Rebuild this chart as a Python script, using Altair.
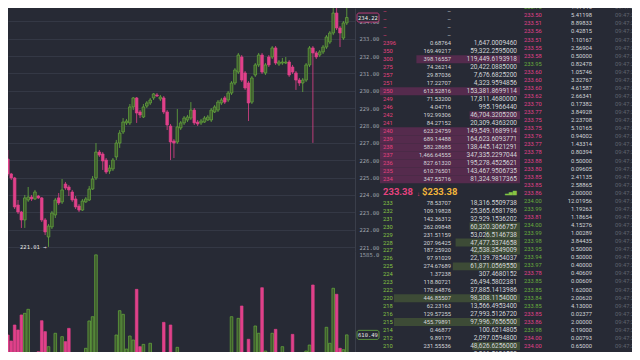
import altair as alt
import pandas as pd

# ---------------- colours / fonts ----------------
BG = "#272a35"
GRID = "#343845"
PINK = "#e0418a"
GREEN = "#67ad3d"
GREEN_FILL = "#3e5a2e"
TXT_PINK = "#e6427f"
TXT_GREEN = "#86c444"
TXT = "#d2d4d8"
TXT_DIM = "#5f636e"
AXIS_TXT = "#9ea2ab"
ASK_BAR = "#552b4d"
BID_BAR = "#3d4b36"
GOLD = "#f2b43a"
MONO = "DejaVu Sans Mono"
SANS = "Roboto"

# ---------------- candlestick data ----------------
opens = [226.07, 225.21, 224.98, 223.42, 223.02, 222.56, 223.71, 223.88, 223.77, 223.94,
         223.83, 222.56, 221.58, 222.16, 222.85, 223.83, 223.60, 224.63, 224.46, 224.17,
         223.77, 223.36, 223.13, 223.60, 223.71, 224.34, 224.98, 226.47, 226.36, 226.01,
         225.38, 225.50, 226.19, 226.99, 227.63, 228.15, 228.15, 229.07, 229.59, 228.78,
         228.49, 229.12, 229.30, 229.59, 229.76, 229.53, 229.59, 228.78, 227.97, 227.11,
         227.05, 227.86, 228.15, 228.32, 228.43, 228.89, 228.20, 228.15, 228.20, 228.32,
         228.32, 228.78, 228.89, 229.30, 229.59, 229.47, 229.87, 230.45, 231.08, 231.95,
         231.03, 230.45, 229.35, 230.91, 231.49, 232.06, 231.03, 231.95, 231.95, 232.47,
         231.54, 231.60, 231.60, 231.66, 231.37, 231.03, 230.62, 230.45, 230.62, 231.49,
         232.47, 232.18, 232.06, 232.24, 232.52, 232.81, 233.33, 234.48, 233.62, 233.04,
         233.91]
closes = [225.21, 224.98, 223.31, 223.02, 222.56, 223.83, 223.88, 223.77, 224.17, 223.83,
          222.56, 221.87, 222.21, 222.96, 223.71, 223.54, 224.29, 224.40, 224.29, 223.71,
          223.31, 223.13, 223.65, 223.77, 224.34, 224.92, 226.47, 226.30, 225.96, 225.32,
          225.55, 226.01, 226.99, 227.57, 228.20, 228.26, 229.07, 229.59, 228.72, 228.61,
          229.07, 229.30, 229.47, 229.82, 229.70, 229.64, 228.78, 228.03, 227.05, 226.99,
          227.92, 228.15, 228.43, 228.49, 228.89, 228.15, 228.09, 228.26, 228.43, 228.49,
          228.89, 229.07, 229.35, 229.47, 229.35, 229.87, 230.45, 231.20, 232.06, 230.62,
          230.16, 229.30, 230.74, 231.49, 232.06, 231.08, 231.49, 231.49, 232.47, 231.60,
          231.66, 231.66, 231.66, 230.91, 231.08, 230.62, 230.45, 230.62, 231.49, 232.47,
          232.18, 231.95, 232.24, 232.52, 233.10, 233.33, 234.48, 233.62, 233.33, 233.91,
          234.22]
highs = [226.59, 225.27, 225.04, 223.71, 223.08, 224.00, 224.46, 224.00, 224.29, 224.00,
         223.88, 222.67, 222.33, 223.08, 223.83, 224.11, 224.92, 224.75, 224.57, 224.29,
         223.94, 223.48, 223.77, 223.88, 224.52, 225.09, 226.99, 226.59, 226.47, 226.13,
         225.73, 226.13, 227.17, 227.74, 228.43, 228.38, 229.24, 229.64, 229.64, 228.89,
         229.24, 229.41, 229.59, 229.87, 229.87, 229.76, 229.70, 228.89, 228.09, 227.22,
         228.95, 228.26, 228.55, 228.61, 229.35, 229.01, 228.32, 228.38, 228.55, 228.61,
         229.01, 229.18, 229.47, 229.59, 229.70, 229.99, 230.56, 231.31, 232.18, 232.06,
         231.14, 230.56, 230.85, 231.60, 232.18, 232.18, 231.60, 232.06, 232.58, 232.58,
         231.77, 231.89, 231.95, 231.77, 231.49, 231.14, 230.74, 230.74, 231.60, 232.58,
         232.58, 232.29, 232.35, 232.64, 233.21, 233.44, 234.94, 234.77, 233.73, 234.02,
         234.83]
lows = [225.09, 224.86, 223.19, 222.90, 222.10, 222.10, 223.60, 223.65, 223.71, 223.77,
        222.44, 221.69, 221.01, 222.04, 222.67, 223.42, 223.48, 224.29, 223.94, 223.60,
        223.19, 223.02, 223.08, 223.54, 223.65, 224.29, 224.86, 226.19, 225.44, 225.21,
        225.21, 225.38, 226.01, 226.71, 227.51, 228.03, 228.03, 228.89, 228.15, 228.43,
        228.43, 229.01, 229.18, 229.47, 229.64, 229.41, 228.66, 227.74, 226.01, 226.13,
        226.94, 227.74, 228.03, 228.20, 228.32, 228.03, 227.97, 228.03, 228.15, 228.26,
        228.20, 228.72, 228.78, 229.18, 229.24, 229.35, 229.76, 230.33, 230.97, 230.51,
        230.05, 228.26, 229.24, 230.80, 231.37, 230.97, 230.91, 231.37, 231.83, 231.49,
        231.43, 231.49, 231.54, 230.80, 230.97, 230.05, 230.28, 229.93, 230.51, 231.37,
        227.00, 231.83, 231.95, 232.12, 232.41, 232.70, 233.21, 233.50, 232.52, 232.93,
        233.79]
volumes = [609, 536, 731, 670, 853, 873, 922, 250, 260, 406,
           783, 650, 467, 341, 630, 394, 589, 528, 690, 280,
           240, 260, 300, 447, 780, 832, 1585, 325, 365, 290,
           270, 300, 609, 905, 861, 438, 597, 548, 1165, 467,
           495, 317, 508, 280, 394, 386, 763, 260, 731, 280,
           459, 353, 250, 220, 240, 333, 210, 230, 200, 220,
           210, 240, 230, 250, 260, 329, 832, 333, 812, 962,
           329, 557, 365, 719, 630, 1185, 414, 290, 630, 678,
           374, 467, 280, 300, 617, 290, 270, 300, 414, 487,
           1218, 290, 330, 280, 703, 508, 1178, 1105, 447, 430,
           610.49]

price_ticks = [221, 222, 223, 224, 225, 226, 227, 228, 229, 230, 231, 232, 233, 234]
last_price = 234.22
last_volume = 610.49
volume_label = 1585.0
low_mark = 221.01
low_index = 12

# ---------------- order book data ----------------
ask_prices = ["–", "–", "–", "–", "–", "2396", "350", "300", "275", "257", "251", "250",
              "249", "246", "242", "241", "240", "239", "238", "237", "236", "235", "234"]
ask_amounts = ["–", "–", "–", "–", "–", "0.68764", "169.49217", "398.16557", "74.26214",
               "29.87036", "17.22707", "613.52816", "71.53200", "4.04716", "192.99306",
               "84.27152", "623.24759", "689.14488", "582.28685", "1,466.64555",
               "827.61320", "610.76501", "347.55716"]
ask_totals = ["", "", "", "", "", "1,647.0009460", "59,322.2595000", "119,449.6193918",
              "20,422.0885000", "7,676.6825200", "4,323.9594856", "153,381.8699114",
              "17,811.4680000", "995.1966440", "46,704.3205200", "20,309.4363200",
              "149,549.1689914", "164,623.6093771", "138,445.1421291", "347,335.2297044",
              "195,278.4525621", "143,467.9506735", "81,324.9817365"]
ask_depth = [0, 0, 0, 0, 0, 0, 0, 0.74, 0, 0, 0, 1.0,
             0, 0, 0.36, 0, 1.0, 1.0, 1.0, 1.0, 1.0, 1.0, 1.0]

mid_price = 233.38

bid_prices = ["233", "232", "231", "230", "229", "228", "227", "226", "225", "224",
              "223", "222", "220", "218", "216", "215", "214", "212", "210", "205"]
bid_amounts = ["78.53707", "109.19828", "142.36312", "262.09848", "231.51159", "207.96425",
               "187.25920", "97.91029", "274.67689", "1.37238", "118.80721", "170.64876",
               "446.85507", "62.23163", "129.57255", "455.79891", "0.46877", "9.89179",
               "231.55536", "10.05630"]
bid_totals = ["18,316.5509738", "25,365.6581786", "32,929.1536202", "60,320.3066757",
              "53,026.5146738", "47,477.5374658", "42,538.3549009", "22,139.7854037",
              "61,871.0569550", "307.4680152", "26,494.5802381", "37,885.1413986",
              "98,308.1154000", "13,566.4953400", "27,993.5126720", "97,996.7656500",
              "100.6214805", "2,097.0594800", "48,626.6256000", "2,066.5696500"]
bid_depth = [0, 0, 0, 0.36, 0.25, 0.46, 0.34, 0, 0.48, 0,
             0, 0, 0.90, 0, 0, 0.90, 0, 0, 0.34, 0]

# ---------------- trade history data ----------------
trade_prices = ["233.59", "233.76", "233.50", "233.51", "233.56", "233.51", "233.55", "233.58",
                "233.95", "233.60", "233.60", "233.60", "233.62", "233.70", "233.77", "233.75",
                "233.75", "233.76", "233.77", "233.78", "233.88", "233.80", "233.85", "233.85",
                "233.86", "234.00", "233.99", "233.81", "234.00", "233.99", "233.98", "233.95",
                "233.94", "233.97", "233.78", "233.85", "233.85", "233.84", "233.85", "233.85",
                "233.86", "233.98", "234.00", "234.00", "233.85", "233.88"]
trade_sides = ["sell", "buy", "sell", "sell", "sell", "sell", "sell", "sell",
               "buy", "sell", "sell", "sell", "sell", "sell", "sell", "sell",
               "sell", "sell", "sell", "sell", "sell", "sell", "sell", "sell",
               "sell", "buy", "buy", "sell", "buy", "buy", "buy", "buy",
               "buy", "buy", "sell", "buy", "buy", "buy", "buy", "sell",
               "sell", "buy", "sell", "sell", "sell", "sell"]
trade_amounts = ["1.99946", "1.97916", "5.41198", "8.89833", "0.42815", "1.10167", "2.56904",
                 "0.50000", "0.82478", "1.05746", "3.32767", "4.61587", "2.66341", "0.17382",
                 "3.84928", "2.23708", "5.10165", "0.94002", "1.43314", "0.80394", "0.50000",
                 "0.09605", "2.41135", "2.58865", "2.00000", "12.01956", "1.19263", "1.18654",
                 "4.15276", "1.00289", "3.84435", "0.50000", "0.50000", "0.40000", "0.40609",
                 "0.00609", "1.62000", "2.00620", "4.13000", "0.02377", "2.00000", "0.19000",
                 "0.00793", "0.65000", "0.91746", "0.60231"]
trade_times = ["09:47:38", "09:47:37", "09:47:37", "09:47:37", "09:47:36", "09:47:35",
               "09:47:35", "09:47:35", "09:47:33", "09:47:33", "09:47:33", "09:47:33",
               "09:47:33", "09:47:32", "09:47:32", "09:47:32", "09:47:32", "09:47:32",
               "09:47:32", "09:47:32", "09:47:31", "09:47:31", "09:47:31", "09:47:31",
               "09:47:31", "09:47:30", "09:47:30", "09:47:29", "09:47:28", "09:47:28",
               "09:47:28", "09:47:28", "09:47:28", "09:47:28", "09:47:28", "09:47:28",
               "09:47:28", "09:47:27", "09:47:27", "09:47:27", "09:47:27", "09:47:27",
               "09:47:27", "09:47:26", "09:47:26", "09:47:25", "09:47:25"][:46]

# ---------------- tables ----------------
n = len(opens)
cdf = pd.DataFrame({"i": list(range(n)), "open": opens, "high": highs, "low": lows,
                    "close": closes, "volume": volumes})
cdf["dir"] = ["up" if c >= o else "down" for o, c in zip(opens, closes)]

ask_df = pd.DataFrame({"r": list(range(len(ask_prices))), "price": ask_prices,
                       "amount": ask_amounts, "total": ask_totals, "depth": ask_depth})
bid_df = pd.DataFrame({"r": list(range(len(bid_prices))), "price": bid_prices,
                       "amount": bid_amounts, "total": bid_totals, "depth": bid_depth})
trade_df = pd.DataFrame({"k": list(range(len(trade_prices))), "price": trade_prices,
                         "side": trade_sides, "amount": trade_amounts,
                         "time": trade_times[:len(trade_prices)]})

# ---------------- price panel ----------------
xs = alt.Scale(domain=[1.52, 100.95], nice=False, zero=False)
ys = alt.Scale(domain=[220.772, 234.770], nice=False, zero=False)
yax = alt.Axis(orient="right", values=price_ticks, format=".2f", grid=True,
               gridColor=GRID, gridWidth=1, domainColor="#3a3e4a", tickSize=0,
               labelPadding=4, labelFont=MONO, labelFontSize=5.5, labelColor=AXIS_TXT,
               minExtent=25, maxExtent=25, title=None, labelOverlap=False)
X = alt.X("i:Q", scale=xs, axis=None)
dir_color = alt.Color("dir:N", scale=alt.Scale(domain=["up", "down"], range=[GREEN, PINK]), legend=None)
dir_stroke = alt.Stroke("dir:N", scale=alt.Scale(domain=["up", "down"], range=[GREEN, PINK]), legend=None)
dir_fill = alt.Fill("dir:N", scale=alt.Scale(domain=["up", "down"], range=[GREEN_FILL, PINK]), legend=None)

wicks = alt.Chart(cdf).mark_rule(clip=True, strokeWidth=0.8).encode(
    x=X, y=alt.Y("low:Q", scale=ys, axis=yax), y2="high:Q", color=dir_color)
bodies = alt.Chart(cdf).mark_bar(clip=True, size=2.6, strokeWidth=0.7).encode(
    x=X, y=alt.Y("open:Q", scale=ys, axis=yax), y2="close:Q", fill=dir_fill, stroke=dir_stroke)

pbox_df = pd.DataFrame({"price": [last_price]})
price_box = alt.Chart(pbox_df).transform_calculate(
    lo="datum.price - 0.26", hi="datum.price + 0.26").mark_rect(
    fill=BG, stroke=PINK, strokeWidth=0.8, cornerRadius=2).encode(
    x=alt.value(349), x2=alt.value(371), y=alt.Y("lo:Q", scale=ys, axis=yax), y2="hi:Q")
price_txt = alt.Chart(pbox_df).transform_calculate(
    label="format(datum.price, '.2f')").mark_text(
    font=MONO, fontSize=5.5, color="#e8e8e8").encode(
    x=alt.value(360), y=alt.Y("price:Q", scale=ys, axis=yax), text="label:N")

low_df = pd.DataFrame({"i": [low_index], "price": [low_mark]})
low_txt = alt.Chart(low_df).transform_calculate(
    label="format(datum.price, '.2f') + ' →'").mark_text(
    align="right", dx=-2, font=MONO, fontSize=5.5, color="#e4e4e4").encode(
    x=X, y=alt.Y("price:Q", scale=ys, axis=yax), text="label:N")

price_chart = alt.layer(wicks, bodies, price_box, price_txt, low_txt).properties(width=347, height=243)

# ---------------- volume panel ----------------
vs = alt.Scale(domain=[402, 1632], nice=False, zero=False)
vax = alt.Axis(orient="right", values=[volume_label], format=".1f", grid=False,
               domainColor="#3a3e4a", tickSize=0, labelPadding=4, labelFont=MONO,
               labelFontSize=5.5, labelColor=AXIS_TXT, minExtent=25, maxExtent=25,
               title=None, labelOverlap=False)
vbars = alt.Chart(cdf).mark_bar(clip=True, size=2.6, strokeWidth=0.7).encode(
    x=X, y=alt.Y("volume:Q", scale=vs, axis=vax), fill=dir_fill, stroke=dir_stroke)
vbox_df = pd.DataFrame({"v": [last_volume]})
vol_box = alt.Chart(vbox_df).transform_calculate(
    lo="datum.v - 55", hi="datum.v + 55").mark_rect(
    fill=BG, stroke=GREEN, strokeWidth=0.8, cornerRadius=2).encode(
    x=alt.value(349), x2=alt.value(371), y=alt.Y("lo:Q", scale=vs, axis=vax), y2="hi:Q")
vol_txt = alt.Chart(vbox_df).transform_calculate(
    label="format(datum.v, '.2f')").mark_text(
    font=MONO, fontSize=5.5, color="#e8e8e8").encode(
    x=alt.value(360), y=alt.Y("v:Q", scale=vs, axis=vax), text="label:N")
volume_chart = alt.layer(vbars, vol_box, vol_txt).properties(width=347, height=101)

left = alt.vconcat(price_chart, volume_chart, spacing=0)

# ---------------- order book ----------------
def book_panel(df, yscale, bar_color, price_color, height):
    Y = alt.Y("r:Q", scale=yscale, axis=None)
    bars = alt.Chart(df).transform_filter("datum.depth > 0").transform_calculate(
        x0="1 - datum.depth", x1="1", y0="datum.r - 0.5", y1="datum.r + 0.5").mark_rect(
        color=bar_color, clip=True).encode(
        x=alt.X("x0:Q", scale=alt.Scale(domain=[0, 1], nice=False), axis=None), x2="x1:Q",
        y=alt.Y("y0:Q", scale=yscale, axis=None), y2="y1:Q")
    p = alt.Chart(df).mark_text(align="left", font=SANS, fontSize=5.8, color=price_color,
                                clip=True).encode(x=alt.value(3), y=Y, text="price:N")
    a = alt.Chart(df).mark_text(align="right", font=SANS, fontSize=5.8, color=TXT,
                                clip=True).encode(x=alt.value(71), y=Y, text="amount:N")
    t = alt.Chart(df).mark_text(align="right", font=SANS, fontSize=6.5, color=TXT,
                                clip=True).encode(x=alt.value(137), y=Y, text="total:N")
    return alt.layer(bars, p, a, t).properties(width=140, height=height)

ask_ys = alt.Scale(domain=[0.5875, 22.5875], reverse=True, nice=False, zero=False)
bid_ys = alt.Scale(domain=[-0.465, 18.756], reverse=True, nice=False, zero=False)
asks = book_panel(ask_df, ask_ys, ASK_BAR, TXT_PINK, 176)
bids = book_panel(bid_df, bid_ys, BID_BAR, TXT_GREEN, 153)

mid_df = pd.DataFrame({"mid": [mid_price]})
mid_base = alt.Chart(mid_df).transform_calculate(
    label="format(datum.mid, '.2f')", usd="'$' + format(datum.mid, '.2f')",
    arrow="'↓'", sig="'▂▄▆'")
mid = alt.layer(
    mid_base.mark_text(align="left", font=SANS, fontSize=9.5, fontWeight="bold",
                       color=TXT_PINK).encode(x=alt.value(3), text="label:N"),
    mid_base.mark_text(align="left", font=SANS, fontSize=6, color=TXT_PINK,
                       dy=2).encode(x=alt.value(37), text="arrow:N"),
    mid_base.mark_text(align="left", font=SANS, fontSize=9.5, fontWeight="bold",
                       color=GOLD).encode(x=alt.value(42), text="usd:N"),
    mid_base.mark_text(align="left", font="DejaVu Sans", fontSize=5, color=TXT_GREEN
                       ).encode(x=alt.value(125), text="sig:N"),
).properties(width=140, height=15)

book = alt.vconcat(asks, mid, bids, spacing=0)

# ---------------- trades ----------------
t_ys = alt.Scale(domain=[1.0865, 43.75], reverse=True, nice=False, zero=False)
TY = alt.Y("k:Q", scale=t_ys, axis=None)
side_color = alt.Color("side:N", scale=alt.Scale(domain=["buy", "sell"],
                       range=[TXT_GREEN, TXT_PINK]), legend=None)
tp = alt.Chart(trade_df).mark_text(align="left", font=SANS, fontSize=5.8, clip=True).encode(
    x=alt.value(4), y=TY, text="price:N", color=side_color)
ta = alt.Chart(trade_df).mark_text(align="right", font=SANS, fontSize=5.8, color=TXT,
                                   clip=True).encode(x=alt.value(72), y=TY, text="amount:N")
tt = alt.Chart(trade_df).mark_text(align="left", font=SANS, fontSize=5.8, color=TXT_DIM,
                                   clip=True).encode(x=alt.value(95), y=TY, text="time:N")
trades = alt.layer(tp, ta, tt).properties(width=112, height=344)

chart = alt.hconcat(left, book, trades, spacing=0).properties(
    background=BG, padding=0).configure_view(stroke=None)

chart.save("out.html", embed_options={"renderer": "svg", "actions": False})
